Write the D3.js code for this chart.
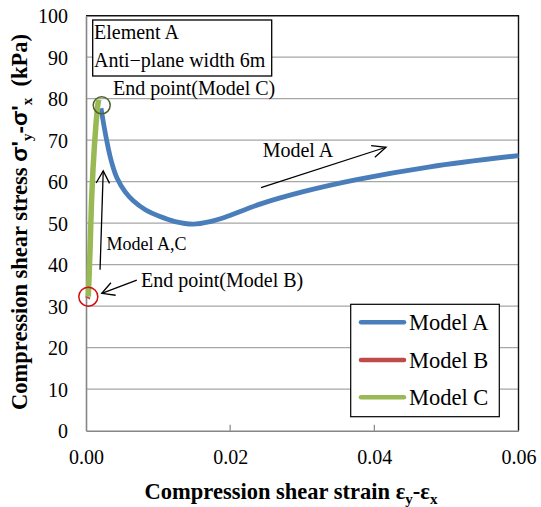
<!DOCTYPE html>
<html>
<head>
<meta charset="utf-8">
<script src="https://cdn.jsdelivr.net/npm/d3@7"></script>
<style>
  html, body { margin: 0; padding: 0; background: #fff; }
  svg text { font-family: "Liberation Serif", "Times New Roman", serif; fill: #000; }
</style>
</head>
<body>
<svg id="chart" width="541" height="507"></svg>
<script>
// Compression shear strain (εy-εx) vs. compression shear stress (kPa)
const modelA = [
  [0.00208, 77.7], [0.0025, 73.4], [0.00291, 69.6], [0.00333, 66.2],
  [0.00379, 63.3], [0.0043, 60.9], [0.00541, 57.6], [0.00656, 55.4],
  [0.00818, 53.3], [0.01027, 51.6], [0.01235, 50.4], [0.01487, 49.8],
  [0.0172, 50.4], [0.01952, 51.6], [0.02414, 54.6], [0.03015, 57.6],
  [0.03755, 60.5], [0.04772, 63.6], [0.06, 66.3]
];
const modelB = [[0.0002, 31.9], [0.00032, 32.3]];
const modelC = [
  [0.00032, 32.3], [0.00055, 43.0], [0.00076, 55.0], [0.00097, 63.0],
  [0.00118, 69.0], [0.00139, 74.0], [0.0016, 78.0], [0.00175, 79.8]
];
const seriesNames = ["Model A", "Model B", "Model C"];
const seriesColors = ["#4a7ebb", "#be4b48", "#98b954"];
const xTicks = [0, 0.02, 0.04, 0.06];
const yTicks = [0, 10, 20, 30, 40, 50, 60, 70, 80, 90, 100];

const svg = d3.select("#chart");
const plot = { left: 86, right: 518.5, top: 15.7, bottom: 430.7 };

const x = d3.scaleLinear().domain([0, 0.06]).range([plot.left, plot.right]);
const y = d3.scaleLinear().domain([0, 100]).range([plot.bottom, plot.top]);

// horizontal gridlines
svg.append("g").selectAll("line").data(yTicks.slice(1, -1)).join("line")
  .attr("x1", plot.left).attr("x2", plot.right)
  .attr("y1", d => y(d)).attr("y2", d => y(d))
  .attr("stroke", "#a6a6a6").attr("stroke-width", 1.2);

// plot frame (top/right dark)
svg.append("path")
  .attr("d", `M${plot.left},${plot.top}H${plot.right}V${plot.bottom}`)
  .attr("fill", "none").attr("stroke", "#111").attr("stroke-width", 1.4);

// y axis
const yAxis = svg.append("g").attr("transform", `translate(${plot.left},0)`)
  .call(d3.axisLeft(y).tickValues(yTicks).tickSize(0).tickPadding(18).tickFormat(d3.format("d")));
yAxis.select(".domain").attr("stroke", "#868686").attr("stroke-width", 1.6);
yAxis.selectAll("text").attr("font-size", 20).attr("dy", "0.34em");

// x axis
const xAxis = svg.append("g").attr("transform", `translate(0,${plot.bottom})`)
  .call(d3.axisBottom(x).tickValues(xTicks).tickSize(0).tickPadding(19).tickFormat(d3.format(".2f")));
xAxis.select(".domain").attr("stroke", "#868686").attr("stroke-width", 1.6);
xAxis.selectAll("text").attr("font-size", 20);
// inner tick marks
svg.append("g").selectAll("line").data(xTicks.slice(1, -1)).join("line")
  .attr("x1", d => x(d)).attr("x2", d => x(d))
  .attr("y1", plot.bottom).attr("y2", plot.bottom - 6)
  .attr("stroke", "#868686").attr("stroke-width", 1.2);

// series lines
const smooth = d3.line().x(d => x(d[0])).y(d => y(d[1])).curve(d3.curveCatmullRom.alpha(0.5));
const straight = d3.line().x(d => x(d[0])).y(d => y(d[1])).curve(d3.curveLinear);
svg.append("path").datum(modelA).attr("d", smooth)
  .attr("fill", "none").attr("stroke", seriesColors[0]).attr("stroke-width", 4.8)
  .attr("stroke-linejoin", "round");
svg.append("path").datum(modelB).attr("d", straight)
  .attr("fill", "none").attr("stroke", seriesColors[1]).attr("stroke-width", 5)
  .attr("stroke-linejoin", "round");
svg.append("path").datum(modelC).attr("d", straight)
  .attr("fill", "none").attr("stroke", seriesColors[2]).attr("stroke-width", 5.5)
  .attr("stroke-linejoin", "round");

// end point markers
const lastB = modelB[modelB.length - 1];
svg.append("circle").attr("cx", x(lastB[0])).attr("cy", y(lastB[1])).attr("r", 9.5)
  .attr("fill", "none").attr("stroke", "#d01010").attr("stroke-width", 1.5);
svg.append("circle").attr("cx", x(0.00218)).attr("cy", y(78.4)).attr("r", 8.5)
  .attr("fill", "none").attr("stroke", "#4f6228").attr("stroke-width", 1.5);

// annotation arrows (data coordinates)
function arrow(from, to, headLen = 14, spread = 0.45) {
  const x1 = x(from[0]), y1 = y(from[1]), x2 = x(to[0]), y2 = y(to[1]);
  const a = Math.atan2(y2 - y1, x2 - x1);
  const g = svg.append("g").attr("stroke", "#000").attr("stroke-width", 1.3).attr("fill", "none");
  g.append("line").attr("x1", x1).attr("y1", y1).attr("x2", x2).attr("y2", y2);
  g.append("path").attr("d",
    `M${x2 - headLen * Math.cos(a - spread)},${y2 - headLen * Math.sin(a - spread)}` +
    `L${x2},${y2}` +
    `L${x2 - headLen * Math.cos(a + spread)},${y2 - headLen * Math.sin(a + spread)}`);
}
arrow([0.02428, 58.55], [0.04162, 68.3], 15, 0.42);
arrow([0.00195, 38.8], [0.00239, 62.6], 14, 0.5);
arrow([0.00705, 36.3], [0.00219, 33.1], 14, 0.5);

function label(txt, px, py, size) {
  svg.append("text").attr("x", px).attr("y", py).attr("font-size", size).text(txt);
}
label("Model A", 262.7, 156.7, 20);
label("Model A,C", 106.5, 250, 18);
label("End point(Model B)", 141, 286.7, 20);
label("End point(Model C)", 113, 95, 20);

// info box
svg.append("rect").attr("x", 92.7).attr("y", 20).attr("width", 179).attr("height", 56)
  .attr("fill", "#fff").attr("stroke", "#000").attr("stroke-width", 1.3);
label("Element A", 94, 39.3, 20);
label("Anti\u2212plane width 6m", 94, 66.5, 20);

// legend
const lg = svg.append("g");
lg.append("rect").attr("x", 350.7).attr("y", 304.3).attr("width", 148.6).attr("height", 112.4)
  .attr("fill", "#fff").attr("stroke", "#000").attr("stroke-width", 1.2);
const rows = [322.3, 360, 397.3];
seriesNames.forEach((n, i) => {
  lg.append("line").attr("x1", 361).attr("x2", 404).attr("y1", rows[i]).attr("y2", rows[i])
    .attr("stroke", seriesColors[i]).attr("stroke-width", 4.5).attr("stroke-linecap", "round");
  lg.append("text").attr("x", 409).attr("y", rows[i] + 7.5).attr("font-size", 22.5).text(n);
});

// axis titles
const xt = svg.append("text").attr("x", 291).attr("y", 499).attr("text-anchor", "middle")
  .attr("font-size", 22.5).attr("font-weight", "bold");
xt.append("tspan").text("Compression shear strain ");
xt.append("tspan").text("\u03b5");
xt.append("tspan").attr("font-size", 15).attr("dy", 5).text("y");
xt.append("tspan").attr("dy", -5).text("-\u03b5");
xt.append("tspan").attr("font-size", 15).attr("dy", 5).text("x");

const yt = svg.append("text").attr("transform", `translate(27,222) rotate(-90)`)
  .attr("text-anchor", "middle").attr("font-size", 22.5).attr("font-weight", "bold");
yt.append("tspan").text("Compression shear stress ");
yt.append("tspan").style("font-family", "Liberation Sans").text("\u03c3'");
yt.append("tspan").attr("font-size", 15).attr("dy", 5).text("y");
yt.append("tspan").attr("dy", -5).style("font-family", "Liberation Sans").text("-\u03c3'");
yt.append("tspan").attr("font-size", 15).attr("dy", 5).text("x");
yt.append("tspan").attr("dy", -5).text("\u00a0\u00a0(kPa)");
</script>
</body>
</html>
